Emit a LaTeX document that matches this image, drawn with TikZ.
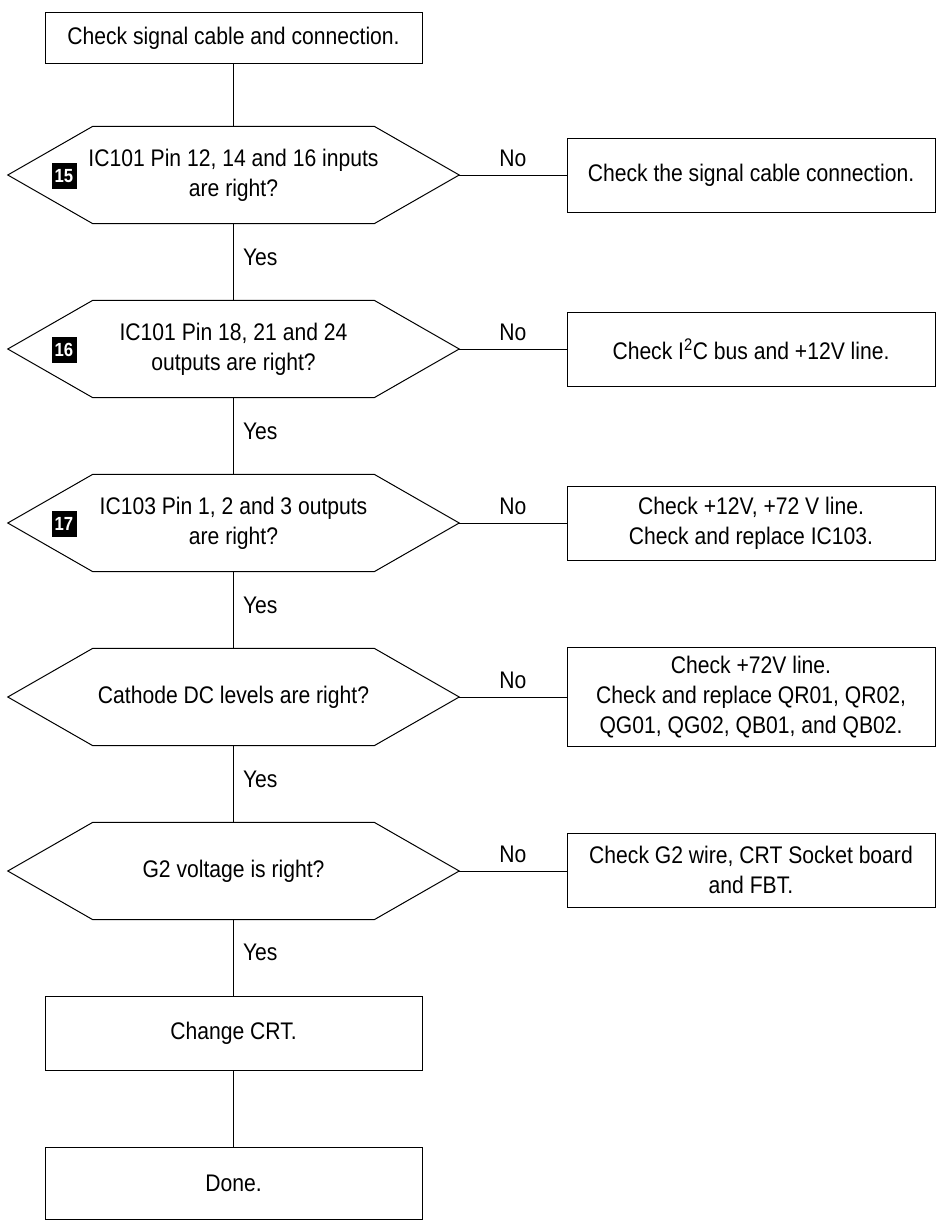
\documentclass[tikz,border=0pt]{standalone}
\usepackage{fontspec}
\setmainfont{Liberation Sans}[FakeStretch=0.88]

\tikzset{
  box/.style={draw,rectangle,line width=1pt,align=center,inner sep=0pt},
  decision/.style={rectangle,align=center,inner sep=0pt,
    minimum width=451pt,minimum height=97pt},
  badge/.style={fill=black,text=white,font=\bfseries\fontsize{19}{19}\selectfont,
    minimum width=25pt,minimum height=26pt,inner sep=0pt},
  link/.style={line width=1pt},
}

\begin{document}
\begin{tikzpicture}[x=1pt,y=-1pt,font=\fontsize{24}{30}\selectfont]
  \useasboundingbox (0,0) rectangle (937,1220);

  \node[box,minimum width=377pt,minimum height=51pt] (start) at (233.5,38.5) {Check signal cable and connection.};

  \node[decision] (d1) at (233.5,175) {IC101 Pin 12, 14 and 16 inputs\\are right?};
  \node[decision] (d2) at (233.5,349) {IC101 Pin 18, 21 and 24\\outputs are right?};
  \node[decision] (d3) at (233.5,523) {IC103 Pin 1, 2 and 3 outputs\\are right?};
  \node[decision] (d4) at (233.5,697) {Cathode DC levels are right?};
  \node[decision] (d5) at (233.5,871) {G2 voltage is right?};

  % hexagon outlines
  \foreach \d in {d1,d2,d3,d4,d5}
    \draw[link] (\d.west) -- ([xshift=85pt]\d.north west) -- ([xshift=-85pt]\d.north east)
      -- (\d.east) -- ([xshift=-85pt]\d.south east) -- ([xshift=85pt]\d.south west) -- cycle;

  \node[badge] (b15) at (64,176) {15};
  \node[badge] (b16) at (64,350) {16};
  \node[badge] (b17) at (64,524) {17};

  \node[box,minimum width=368pt,minimum height=74pt] (n1) at (751,175) {Check the signal cable connection.};
  \node[box,minimum width=368pt,minimum height=74pt] (n2) at (751,349) {Check I\textsuperscript{2}C bus and +12V line.};
  \node[box,minimum width=368pt,minimum height=74pt] (n3) at (751,523) {Check +12V, +72 V line.\\Check and replace IC103.};
  \node[box,minimum width=368pt,minimum height=99pt] (n4) at (751,697) {Check +72V line.\\Check and replace QR01, QR02,\\QG01, QG02, QB01, and QB02.};
  \node[box,minimum width=368pt,minimum height=74pt] (n5) at (751,870) {Check G2 wire, CRT Socket board\\and FBT.};

  \node[box,minimum width=377pt,minimum height=74pt] (crt) at (233.5,1033) {Change CRT.};
  \node[box,minimum width=377pt,minimum height=72pt] (done) at (233.5,1183) {Done.};

  % main path
  \draw[link] (start) -- (d1);
  \draw[link] (d1) -- node[right,inner sep=9pt,yshift=5pt] {Yes} (d2);
  \draw[link] (d2) -- node[right,inner sep=9pt,yshift=5pt] {Yes} (d3);
  \draw[link] (d3) -- node[right,inner sep=9pt,yshift=5pt] {Yes} (d4);
  \draw[link] (d4) -- node[right,inner sep=9pt,yshift=5pt] {Yes} (d5);
  \draw[link] (d5) -- node[right,inner sep=9pt,yshift=5pt] {Yes} (crt);
  \draw[link] (crt) -- (done);

  % no branches
  \foreach \i in {1,...,5}
    \draw[link] (d\i.east) -- node[above,inner sep=8pt] {No} (n\i.west |- d\i.east);
\end{tikzpicture}
\end{document}
